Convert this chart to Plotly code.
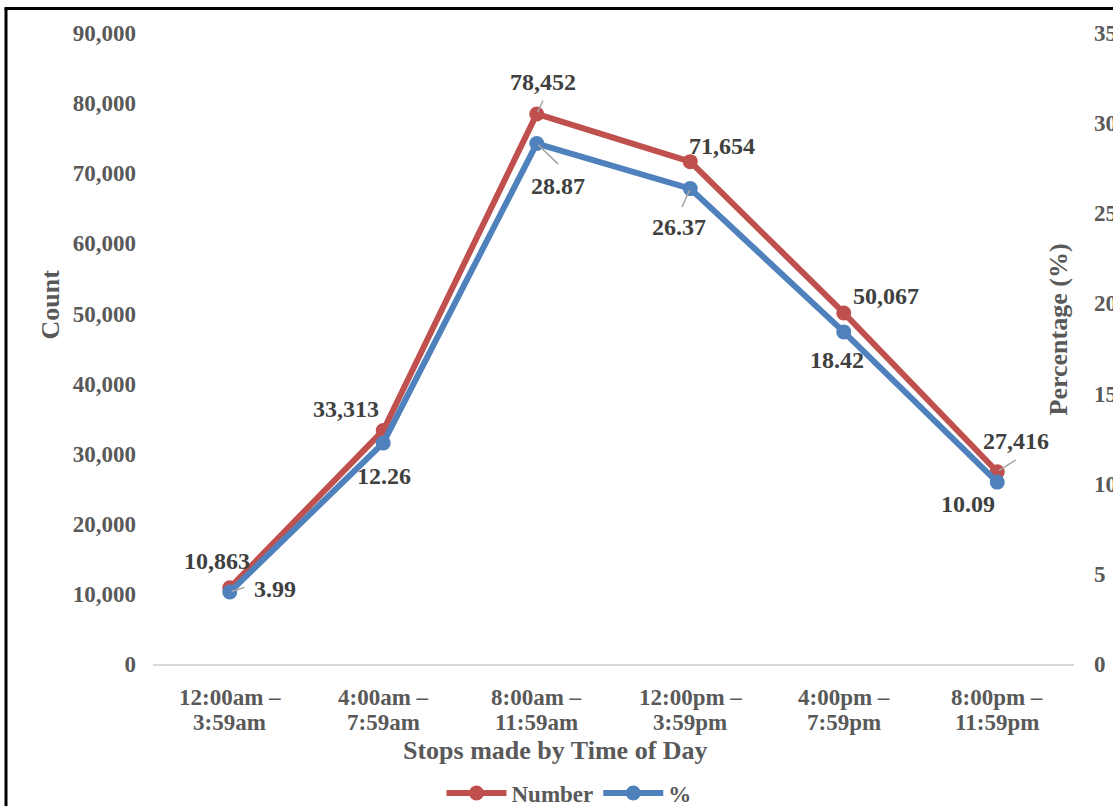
import plotly.graph_objects as go

# ---- data -------------------------------------------------------------
time_slots = [
    "12:00am –<br>3:59am",
    "4:00am –<br>7:59am",
    "8:00am –<br>11:59am",
    "12:00pm –<br>3:59pm",
    "4:00pm –<br>7:59pm",
    "8:00pm –<br>11:59pm",
]
stop_counts = [10863, 33313, 78452, 71654, 50067, 27416]
stop_pcts = [3.99, 12.26, 28.87, 26.37, 18.42, 10.09]

count_ticks = list(range(0, 90001, 10000))
pct_ticks = list(range(0, 36, 5))

# ---- style ------------------------------------------------------------
W, H = 1113, 806
ML, MR, MT, MB = 153, 39, 33, 142
PW, PH = W - ML - MR, H - MT - MB

FONT = "Liberation Serif, Times New Roman, serif"
AXIS_GREY = "#595959"
LABEL_DARK = "#404040"
RED = "#C0504D"
BLUE = "#4F81BD"


def px(xp):
    return (xp - ML) / PW


def py(yp):
    return (H - MB - yp) / PH


# label offsets (pixels, +y downward) relative to each marker
count_label_offsets = [(-13, -27), (-37, -21), (6, -32), (32, -16), (42, -17), (19, -31)]
pct_label_offsets = [(45, -3), (1, 33), (21, 42), (-11, 38), (-7, 28), (-29, 22)]
# leader lines: index -> tail offset from the marker
count_leaders = {2: (7, -15), 5: (20, -13)}
pct_leaders = {0: (16, -5), 2: (23, 22), 3: (-9, 20)}

x_idx = list(range(len(time_slots)))

fig = go.Figure()
fig.add_trace(go.Scatter(
    x=x_idx, y=stop_counts, name="Number", mode="lines+markers",
    line=dict(color=RED, width=6), marker=dict(color=RED, size=15),
    yaxis="y",
))
fig.add_trace(go.Scatter(
    x=x_idx, y=stop_pcts, name="%", mode="lines+markers",
    line=dict(color=BLUE, width=6), marker=dict(color=BLUE, size=15),
    yaxis="y2",
))

annotations = []

# data labels
for i, v in enumerate(stop_counts):
    dx, dy = count_label_offsets[i]
    annotations.append(dict(
        x=i, y=v, xref="x", yref="y", text=f"{v:,}", showarrow=False,
        xshift=dx, yshift=-dy,
        font=dict(family=FONT, size=24, color=LABEL_DARK, weight="bold"),
    ))
for i, v in enumerate(stop_pcts):
    dx, dy = pct_label_offsets[i]
    annotations.append(dict(
        x=i, y=v, xref="x", yref="y2", text=f"{v:.2f}", showarrow=False,
        xshift=dx, yshift=-dy,
        font=dict(family=FONT, size=24, color=LABEL_DARK, weight="bold"),
    ))

# leader lines
for i, (ax, ay) in count_leaders.items():
    annotations.append(dict(
        x=i, y=stop_counts[i], xref="x", yref="y", text="", showarrow=True,
        ax=ax, ay=ay, arrowhead=0, arrowwidth=1.5, arrowcolor="#A6A6A6", standoff=2,
    ))
for i, (ax, ay) in pct_leaders.items():
    annotations.append(dict(
        x=i, y=stop_pcts[i], xref="x", yref="y2", text="", showarrow=True,
        ax=ax, ay=ay, arrowhead=0, arrowwidth=1.5, arrowcolor="#A6A6A6", standoff=2,
    ))

# category labels (two lines each, tighter line spacing)
for i, lab in enumerate(time_slots):
    for j, line in enumerate(lab.split("<br>")):
        annotations.append(dict(
            x=i, y=0, xref="x", yref="paper", text=line, showarrow=False,
            yanchor="middle", yshift=-(33 + 25 * j),
            font=dict(family=FONT, size=23, color=AXIS_GREY, weight="bold"),
        ))

# axis titles
annotations.append(dict(
    x=px(555), y=0, xref="paper", yref="paper", yshift=-86, yanchor="middle",
    text="Stops made by Time of Day", showarrow=False,
    font=dict(family=FONT, size=26, color=AXIS_GREY, weight="bold"),
))
annotations.append(dict(
    x=px(33), y=py(305), xref="paper", yref="paper", textangle=-90,
    text="Count", showarrow=False,
    font=dict(family=FONT, size=26, color=AXIS_GREY, weight="bold"),
))
annotations.append(dict(
    x=px(1075), y=py(330), xref="paper", yref="paper", textangle=-90,
    text="Percentage (%)", showarrow=False,
    font=dict(family=FONT, size=26, color=AXIS_GREY, weight="bold"),
))

# outer frame (left and top edges)
shapes = [
    dict(type="line", xref="paper", yref="paper",
         x0=px(6), x1=px(6), y0=py(H + 20), y1=py(8.5),
         line=dict(color="black", width=3)),
    dict(type="line", xref="paper", yref="paper",
         x0=px(4.5), x1=px(W + 20), y0=py(8.5), y1=py(8.5),
         line=dict(color="black", width=3)),
]

tickfont = dict(family=FONT, size=23, color=AXIS_GREY, weight="bold")

fig.update_layout(
    width=W, height=H,
    margin=dict(l=ML, r=MR, t=MT, b=MB, pad=0, autoexpand=False),
    paper_bgcolor="white", plot_bgcolor="white",
    template="none",
    showlegend=True,
    legend=dict(
        orientation="h", x=569 / W, xref="container", xanchor="center",
        y=(H - 793) / H, yref="container", yanchor="middle",
        font=dict(family=FONT, size=23, color=AXIS_GREY, weight="bold"),
        bgcolor="rgba(0,0,0,0)", itemwidth=60,
    ),
    xaxis=dict(
        range=[-0.5, len(time_slots) - 0.5], showticklabels=False,
        showgrid=False, zeroline=False, ticks="",
        showline=True, linecolor="#D9D9D9", linewidth=1.5,
        automargin=False,
    ),
    yaxis=dict(
        range=[0, 90000], tickvals=count_ticks, tickformat=",",
        showgrid=False, zeroline=False, showline=False, ticks="",
        tickfont=tickfont, ticklabelstandoff=16, automargin=False,
    ),
    yaxis2=dict(
        range=[0, 35], tickvals=pct_ticks, overlaying="y", side="right",
        showgrid=False, zeroline=False, showline=False, ticks="",
        tickfont=tickfont, ticklabelstandoff=19, automargin=False,
    ),
    annotations=annotations,
    shapes=shapes,
)

fig.write_html("out.html")
